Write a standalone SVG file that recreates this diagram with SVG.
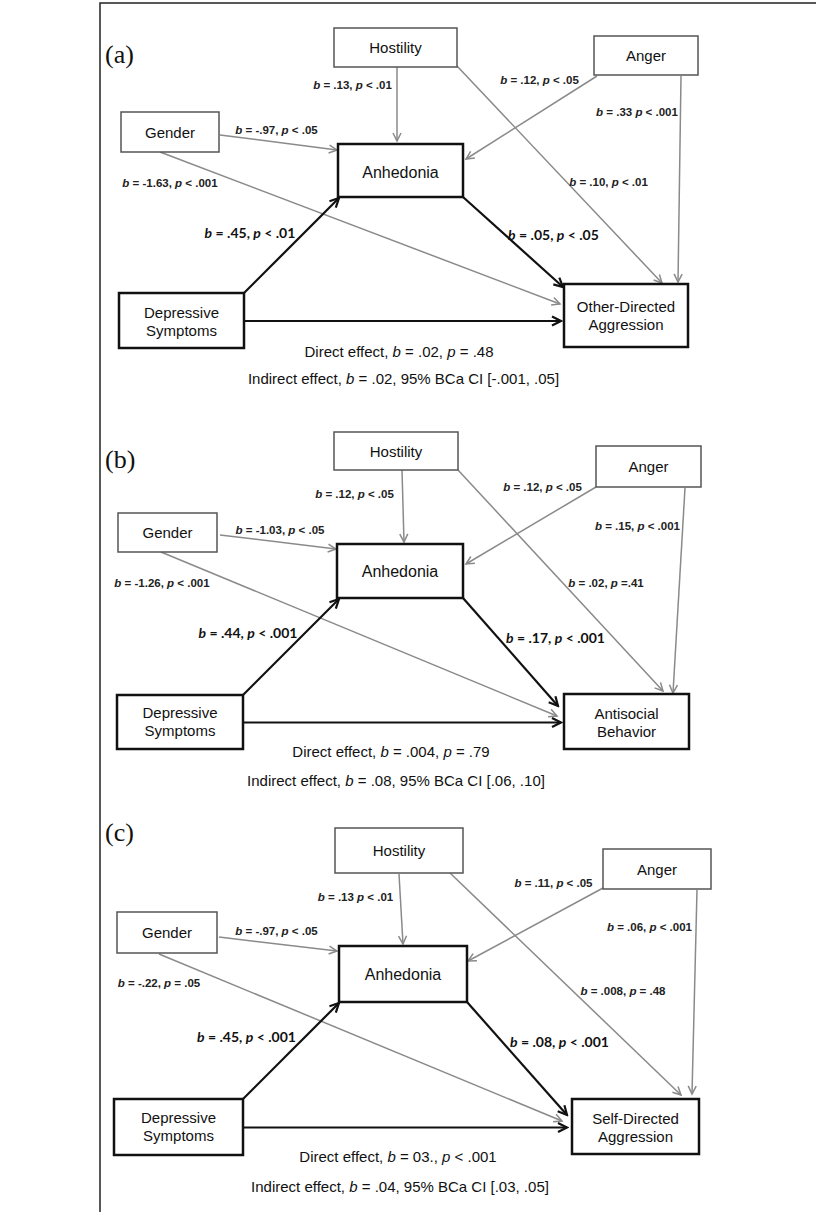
<svg xmlns="http://www.w3.org/2000/svg" width="816" height="1212" viewBox="0 0 816 1212">
<style>
.bg{fill:#fff}
.thin{fill:#fff;stroke:#555;stroke-width:1.5}
.thick{fill:#fff;stroke:#111;stroke-width:2.5}
.bt{font-family:"Liberation Sans",Arial,sans-serif;font-size:15px;fill:#111;text-anchor:middle}
.bt16{font-family:"Liberation Sans",Arial,sans-serif;font-size:16px;fill:#111;text-anchor:middle}
.sl{font-family:"Liberation Sans",Arial,sans-serif;font-size:11.5px;font-weight:bold;fill:#222;text-anchor:middle}
.bl{font-family:Lato,"Liberation Sans",sans-serif;font-size:14px;font-weight:bold;fill:#111;text-anchor:middle}
.cap{font-family:"Liberation Sans",Arial,sans-serif;font-size:15px;fill:#111;text-anchor:middle}
.pl{font-family:"Liberation Serif","Times New Roman",serif;font-size:26px;fill:#111}
.g{stroke:#8a8a8a;stroke-width:1.5;fill:none;marker-end:url(#ag)}
.k{stroke:#111;stroke-width:2.2;fill:none;marker-end:url(#ak)}
.frame{stroke:#222;stroke-width:1.5;fill:none}
</style>
<defs>
<marker id="ag" markerUnits="userSpaceOnUse" markerWidth="12" markerHeight="12" refX="10" refY="6" orient="auto">
<path d="M2,2 L10,6 L2,10" fill="none" stroke="#8a8a8a" stroke-width="1.5"/>
</marker>
<marker id="ak" markerUnits="userSpaceOnUse" markerWidth="14" markerHeight="14" refX="12" refY="7" orient="auto">
<path d="M3,2.5 L12,7 L3,11.5" fill="none" stroke="#111" stroke-width="2.2"/>
</marker>
</defs>
<rect class="bg" x="0" y="0" width="816" height="1212"/>
<path class="frame" d="M100,1212 V3 H816"/>

<!-- ===== Panel (a) ===== -->
<text class="pl" x="105" y="63">(a)</text>
<g id="connectors-a">
<line class="g" x1="397" y1="67" x2="397" y2="141"/>
<line class="g" x1="220" y1="135" x2="337" y2="150"/>
<line class="g" x1="160" y1="152" x2="560" y2="304"/>
<line class="g" x1="597" y1="76" x2="466" y2="159"/>
<line class="g" x1="457" y1="66" x2="662" y2="283"/>
<line class="g" x1="681" y1="76" x2="678" y2="282"/>
<line class="k" x1="244" y1="293" x2="339" y2="198"/>
<line class="k" x1="463" y1="197" x2="563" y2="287"/>
<line class="k" x1="245" y1="321" x2="561" y2="321"/>
</g>
<g id="a-hostility"><rect class="thin" x="334" y="28" width="123" height="39"/><text class="bt" x="395.5" y="53">Hostility</text></g>
<g id="a-anger"><rect class="thin" x="594" y="36" width="104" height="39"/><text class="bt" x="646" y="61">Anger</text></g>
<g id="a-gender"><rect class="thin" x="121" y="112" width="98" height="40"/><text class="bt" x="170" y="137.5">Gender</text></g>
<g id="a-anhedonia"><rect class="thick" x="338" y="144" width="125" height="53"/><text class="bt16" x="400.5" y="178">Anhedonia</text></g>
<g id="a-depressive"><rect class="thick" x="119" y="293" width="125" height="55"/><text class="bt" x="181.5" y="318">Depressive</text><text class="bt" x="181.5" y="336">Symptoms</text></g>
<g id="a-outcome"><rect class="thick" x="564" y="284" width="124" height="63"/><text class="bt" x="626" y="312">Other-Directed</text><text class="bt" x="626" y="330">Aggression</text></g>
<g id="a-labels">
<text class="sl" x="352.5" y="89"><tspan font-style="italic">b</tspan> = .13, <tspan font-style="italic">p</tspan> &lt; .01</text>
<text class="sl" x="276.5" y="134"><tspan font-style="italic">b</tspan> = -.97, <tspan font-style="italic">p</tspan> &lt; .05</text>
<text class="sl" x="170" y="187"><tspan font-style="italic">b</tspan> = -1.63, <tspan font-style="italic">p</tspan> &lt; .001</text>
<text class="sl" x="539.5" y="84"><tspan font-style="italic">b</tspan> = .12, <tspan font-style="italic">p</tspan> &lt; .05</text>
<text class="sl" x="637" y="116"><tspan font-style="italic">b</tspan> = .33 <tspan font-style="italic">p</tspan> &lt; .001</text>
<text class="sl" x="608.5" y="186"><tspan font-style="italic">b</tspan> = .10, <tspan font-style="italic">p</tspan> &lt; .01</text>
<text class="bl" x="250" y="238"><tspan font-style="italic">b</tspan> = .45, <tspan font-style="italic">p</tspan> &lt; .01</text>
<text class="bl" x="553.5" y="240"><tspan font-style="italic">b</tspan> = .05, <tspan font-style="italic">p</tspan> &lt; .05</text>
<text class="cap" x="399" y="357">Direct effect, <tspan font-style="italic">b</tspan> = .02, <tspan font-style="italic">p</tspan> = .48</text>
<text class="cap" x="403.5" y="384">Indirect effect, <tspan font-style="italic">b</tspan> = .02, 95% BCa CI [-.001, .05]</text>
</g>

<!-- ===== Panel (b) ===== -->
<text class="pl" x="105" y="468">(b)</text>
<g id="connectors-b">
<line class="g" x1="402" y1="470" x2="404" y2="542"/>
<line class="g" x1="220" y1="535" x2="336" y2="549"/>
<line class="g" x1="161" y1="552" x2="557" y2="716"/>
<line class="g" x1="596" y1="487" x2="466" y2="564"/>
<line class="g" x1="458" y1="470" x2="663" y2="691"/>
<line class="g" x1="685" y1="488" x2="673" y2="693"/>
<line class="k" x1="243" y1="695" x2="339" y2="599"/>
<line class="k" x1="463" y1="598" x2="558" y2="706"/>
<line class="k" x1="244" y1="722.5" x2="561" y2="722.5"/>
</g>
<g id="b-hostility"><rect class="thin" x="334" y="432" width="124" height="38"/><text class="bt" x="396" y="456.5">Hostility</text></g>
<g id="b-anger"><rect class="thin" x="596" y="446" width="105" height="41"/><text class="bt" x="648.5" y="472">Anger</text></g>
<g id="b-gender"><rect class="thin" x="118" y="513" width="99" height="39"/><text class="bt" x="167.5" y="538">Gender</text></g>
<g id="b-anhedonia"><rect class="thick" x="337" y="544" width="126" height="54"/><text class="bt16" x="400" y="577">Anhedonia</text></g>
<g id="b-depressive"><rect class="thick" x="117" y="695" width="126" height="54"/><text class="bt" x="180" y="718">Depressive</text><text class="bt" x="180" y="736">Symptoms</text></g>
<g id="b-outcome"><rect class="thick" x="564" y="694" width="125" height="55"/><text class="bt" x="626.5" y="719">Antisocial</text><text class="bt" x="626.5" y="737">Behavior</text></g>
<g id="b-labels">
<text class="sl" x="354.5" y="498"><tspan font-style="italic">b</tspan> = .12, <tspan font-style="italic">p</tspan> &lt; .05</text>
<text class="sl" x="280" y="534"><tspan font-style="italic">b</tspan> = -1.03, <tspan font-style="italic">p</tspan> &lt; .05</text>
<text class="sl" x="162" y="587"><tspan font-style="italic">b</tspan> = -1.26, <tspan font-style="italic">p</tspan> &lt; .001</text>
<text class="sl" x="542.5" y="491"><tspan font-style="italic">b</tspan> = .12, <tspan font-style="italic">p</tspan> &lt; .05</text>
<text class="sl" x="637.5" y="530"><tspan font-style="italic">b</tspan> = .15, <tspan font-style="italic">p</tspan> &lt; .001</text>
<text class="sl" x="606" y="587"><tspan font-style="italic">b</tspan> = .02, <tspan font-style="italic">p</tspan> =.41</text>
<text class="bl" x="248" y="638"><tspan font-style="italic">b</tspan> = .44, <tspan font-style="italic">p</tspan> &lt; .001</text>
<text class="bl" x="555.5" y="643"><tspan font-style="italic">b</tspan> = .17, <tspan font-style="italic">p</tspan> &lt; .001</text>
<text class="cap" x="391" y="757">Direct effect, <tspan font-style="italic">b</tspan> = .004, <tspan font-style="italic">p</tspan> = .79</text>
<text class="cap" x="396" y="786">Indirect effect, <tspan font-style="italic">b</tspan> = .08, 95% BCa CI [.06, .10]</text>
</g>

<!-- ===== Panel (c) ===== -->
<text class="pl" x="105" y="841">(c)</text>
<g id="connectors-c">
<line class="g" x1="399" y1="874" x2="403" y2="944"/>
<line class="g" x1="219" y1="937" x2="337" y2="951"/>
<line class="g" x1="159" y1="954" x2="562" y2="1121"/>
<line class="g" x1="603" y1="888" x2="468" y2="961"/>
<line class="g" x1="450" y1="873" x2="681" y2="1095"/>
<line class="g" x1="697" y1="890" x2="692" y2="1094"/>
<line class="k" x1="243" y1="1099" x2="339" y2="1003"/>
<line class="k" x1="467" y1="1002" x2="567" y2="1115"/>
<line class="k" x1="244" y1="1127.5" x2="567" y2="1127.5"/>
</g>
<g id="c-hostility"><rect class="thin" x="335" y="828" width="128" height="45"/><text class="bt" x="399" y="856">Hostility</text></g>
<g id="c-anger"><rect class="thin" x="603" y="849" width="108" height="40"/><text class="bt" x="657" y="874.5">Anger</text></g>
<g id="c-gender"><rect class="thin" x="117" y="912" width="100" height="41"/><text class="bt" x="167" y="938">Gender</text></g>
<g id="c-anhedonia"><rect class="thick" x="339" y="946" width="128" height="56"/><text class="bt16" x="403" y="980">Anhedonia</text></g>
<g id="c-depressive"><rect class="thick" x="114" y="1099" width="129" height="56"/><text class="bt" x="178.5" y="1123">Depressive</text><text class="bt" x="178.5" y="1141">Symptoms</text></g>
<g id="c-outcome"><rect class="thick" x="572" y="1099" width="127" height="55"/><text class="bt" x="635.5" y="1124">Self-Directed</text><text class="bt" x="635.5" y="1142">Aggression</text></g>
<g id="c-labels">
<text class="sl" x="355.5" y="901"><tspan font-style="italic">b</tspan> = .13 <tspan font-style="italic">p</tspan> &lt; .01</text>
<text class="sl" x="276.5" y="935"><tspan font-style="italic">b</tspan> = -.97, <tspan font-style="italic">p</tspan> &lt; .05</text>
<text class="sl" x="159" y="987"><tspan font-style="italic">b</tspan> = -.22, <tspan font-style="italic">p</tspan> = .05</text>
<text class="sl" x="553.5" y="887"><tspan font-style="italic">b</tspan> = .11, <tspan font-style="italic">p</tspan> &lt; .05</text>
<text class="sl" x="649.5" y="931"><tspan font-style="italic">b</tspan> = .06, <tspan font-style="italic">p</tspan> &lt; .001</text>
<text class="sl" x="623" y="995"><tspan font-style="italic">b</tspan> = .008, <tspan font-style="italic">p</tspan> = .48</text>
<text class="bl" x="246.5" y="1042"><tspan font-style="italic">b</tspan> = .45, <tspan font-style="italic">p</tspan> &lt; .001</text>
<text class="bl" x="559.5" y="1047"><tspan font-style="italic">b</tspan> = .08, <tspan font-style="italic">p</tspan> &lt; .001</text>
<text class="cap" x="398" y="1162">Direct effect, <tspan font-style="italic">b</tspan> = 03., <tspan font-style="italic">p</tspan> &lt; .001</text>
<text class="cap" x="400" y="1192">Indirect effect, <tspan font-style="italic">b</tspan> = .04, 95% BCa CI [.03, .05]</text>
</g>
</svg>
